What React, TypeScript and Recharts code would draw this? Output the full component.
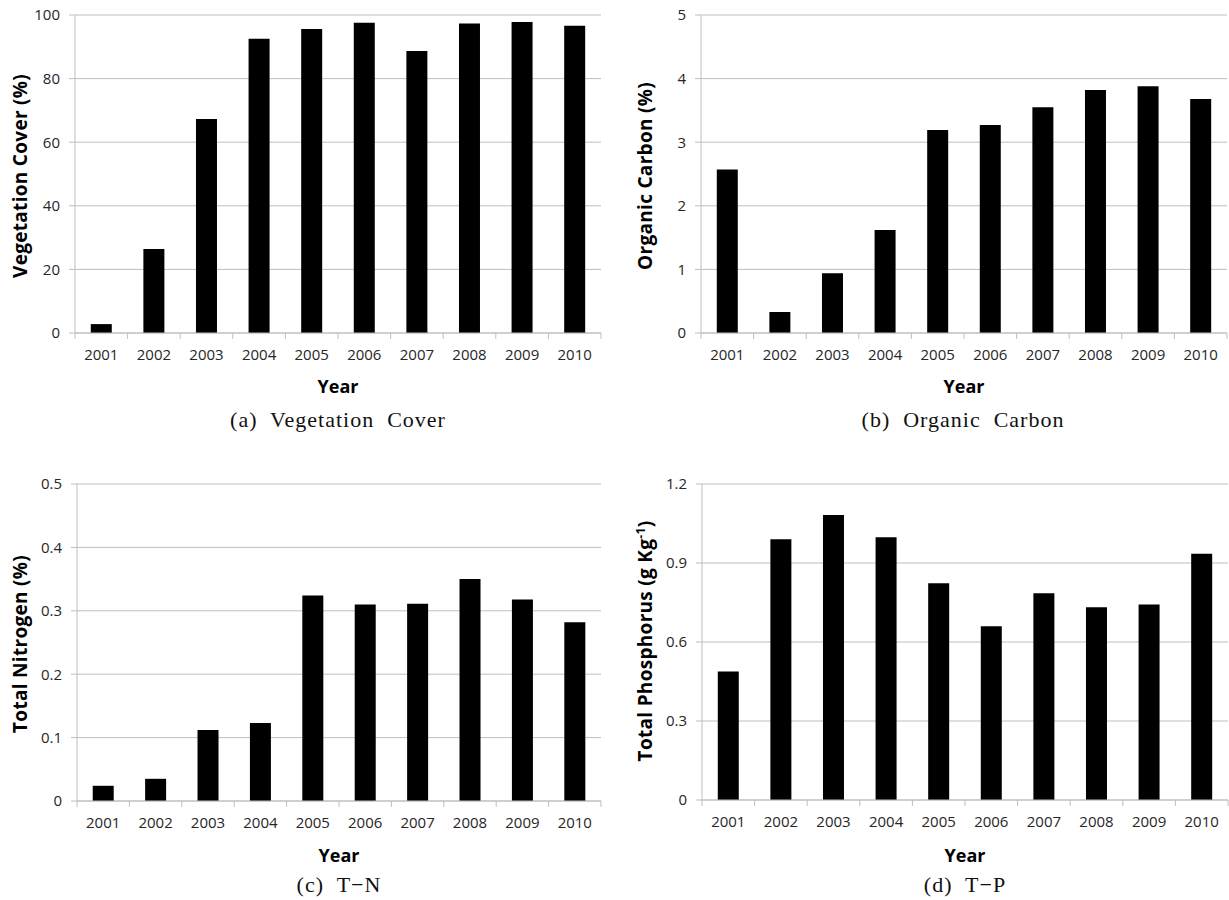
import React from 'react';
import { BarChart, Bar, XAxis, YAxis, CartesianGrid } from 'recharts';

const years = ['2001', '2002', '2003', '2004', '2005', '2006', '2007', '2008', '2009', '2010'];
const vegetationCover = [2.8, 26.4, 67.3, 92.5, 95.6, 97.6, 88.7, 97.3, 97.8, 96.6];
const organicCarbon = [2.57, 0.33, 0.94, 1.62, 3.19, 3.27, 3.55, 3.82, 3.88, 3.68];
const totalNitrogen = [0.024, 0.035, 0.112, 0.123, 0.324, 0.31, 0.311, 0.35, 0.318, 0.282];
const totalPhosphorus = [0.488, 0.99, 1.082, 0.998, 0.823, 0.66, 0.785, 0.732, 0.742, 0.935];

const ticksA = [0, 20, 40, 60, 80, 100];
const ticksB = [0, 1, 2, 3, 4, 5];
const ticksC = [0, 0.1, 0.2, 0.3, 0.4, 0.5];
const ticksD = [0, 0.3, 0.6, 0.9, 1.2];

const GRID = '#bfbfbf';
const TEXT = '#262626';
const SANS = '"Open Sans", "Noto Sans", sans-serif';
const SERIF = '"Liberation Serif", "DejaVu Serif", serif';

const build = (vals: number[]) => years.map((y, i) => ({ year: y, value: vals[i] }));

const XTick = (props: any) => {
  const { x, y, payload, index, visibleTicksCount } = props;
  const half = payload && typeof payload.offset === 'number' && payload.offset > 0 ? payload.offset : 26.3;
  const last = index === (visibleTicksCount ?? 10) - 1;
  return (
    <g>
      <line x1={x - half} y1={y} x2={x - half} y2={y + 6} stroke={GRID} strokeWidth={1} />
      {last && <line x1={x + half} y1={y} x2={x + half} y2={y + 6} stroke={GRID} strokeWidth={1} />}
      <text x={x} y={y + 27} textAnchor="middle" fontFamily={SANS} fontSize={15} fill={TEXT}>
        {payload.value}
      </text>
    </g>
  );
};

type PanelProps = {
  left: number;
  top: number;
  width: number;
  height: number;
  margin: { top: number; right: number; bottom: number; left: number };
  yWidth: number;
  data: { year: string; value: number }[];
  ticks: number[];
  domainMax: number;
};

const Panel = ({ left, top, width, height, margin, yWidth, data, ticks, domainMax }: PanelProps) => (
  <div style={{ position: 'absolute', left, top, width, height }}>
    <BarChart width={width} height={height} data={data} margin={margin} barCategoryGap="30%">
      <CartesianGrid vertical={false} stroke={GRID} strokeWidth={1} />
      <XAxis
        dataKey="year"
        height={30}
        tickLine={false}
        tickSize={0}
        tickMargin={0}
        axisLine={{ stroke: GRID }}
        tick={<XTick />}
        interval={0}
      />
      <YAxis
        width={yWidth}
        domain={[0, domainMax]}
        ticks={ticks}
        interval={0}
        tickSize={6}
        tickMargin={9}
        tickLine={{ stroke: GRID }}
        axisLine={{ stroke: GRID }}
        tick={{ fontFamily: SANS, fontSize: 15, fill: TEXT }}
      />
      <Bar dataKey="value" fill="#000000" isAnimationActive={false} />
    </BarChart>
  </div>
);

const centered = (cx: number, cy: number): React.CSSProperties => ({
  position: 'absolute',
  left: cx,
  top: cy,
  transform: 'translate(-50%, -50%)',
  whiteSpace: 'pre',
});

const yTitle = (cx: number, cy: number): React.CSSProperties => ({
  position: 'absolute',
  left: cx,
  top: cy,
  transform: 'translate(-50%, -50%) rotate(-90deg)',
  whiteSpace: 'pre',
  fontFamily: SANS,
  fontWeight: 700,
  fontSize: 19,
  letterSpacing: 0.3,
  color: '#000',
});

const yearStyle = (cx: number, cy: number): React.CSSProperties => ({
  ...centered(cx, cy),
  fontFamily: SANS,
  fontWeight: 700,
  fontSize: 18,
  color: '#000',
});

const capStyle = (cx: number, cy: number): React.CSSProperties => ({
  ...centered(cx, cy),
  fontFamily: SERIF,
  fontSize: 22,
  letterSpacing: 1,
  color: '#111',
});

export default function App() {
  return (
    <div style={{ position: 'absolute', left: 0, top: 0, width: 1229, height: 900, background: '#fff', overflow: 'hidden' }}>
      <Panel
        left={0}
        top={0}
        width={614}
        height={440}
        margin={{ top: 15, right: 13, bottom: 77, left: 0 }}
        yWidth={75}
        data={build(vegetationCover)}
        ticks={ticksA}
        domainMax={100}
      />
      <Panel
        left={614}
        top={0}
        width={615}
        height={440}
        margin={{ top: 15, right: 2, bottom: 77, left: 0 }}
        yWidth={87}
        data={build(organicCarbon)}
        ticks={ticksB}
        domainMax={5}
      />
      <Panel
        left={0}
        top={440}
        width={614}
        height={460}
        margin={{ top: 44, right: 13, bottom: 69, left: 0 }}
        yWidth={77}
        data={build(totalNitrogen)}
        ticks={ticksC}
        domainMax={0.5}
      />
      <Panel
        left={614}
        top={440}
        width={615}
        height={460}
        margin={{ top: 44, right: 1, bottom: 70, left: 0 }}
        yWidth={88}
        data={build(totalPhosphorus)}
        ticks={ticksD}
        domainMax={1.2}
      />

      <div style={yTitle(20, 176)}>Vegetation Cover (%)</div>
      <div style={yTitle(645, 176)}>Organic Carbon (%)</div>
      <div style={yTitle(20, 644)}>Total Nitrogen (%)</div>
      <div style={yTitle(645, 641)}>
        Total Phosphorus (g Kg<sup style={{ fontSize: 12 }}>-1</sup>)
      </div>

      <div style={yearStyle(338, 386)}>Year</div>
      <div style={yearStyle(964, 386)}>Year</div>
      <div style={yearStyle(339, 855)}>Year</div>
      <div style={yearStyle(965, 855)}>Year</div>

      <div style={capStyle(338, 420)}>(a)  Vegetation  Cover</div>
      <div style={capStyle(963, 420)}>(b)  Organic  Carbon</div>
      <div style={capStyle(339, 885)}>(c)  T−N</div>
      <div style={capStyle(965, 885)}>(d)  T−P</div>
    </div>
  );
}
